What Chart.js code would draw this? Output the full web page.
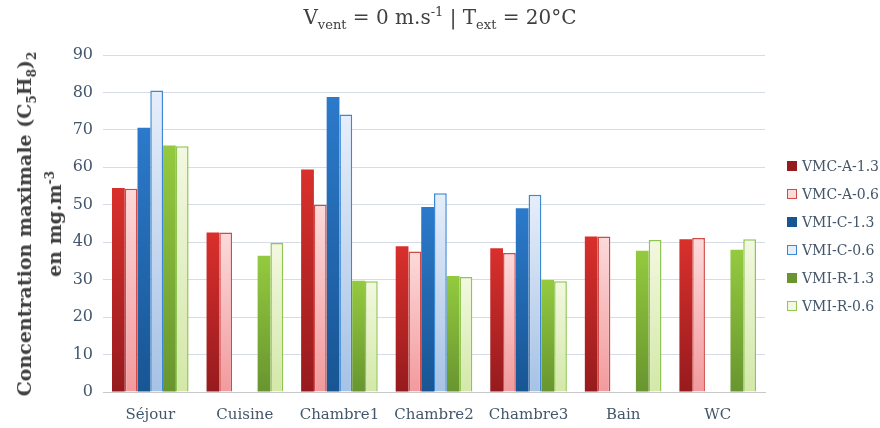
<!DOCTYPE html>
<html>
<head>
<meta charset="utf-8">
<script src="https://cdn.jsdelivr.net/npm/chart.js@4"></script>
<style>
    body { margin: 0; background: #fff; }
    #cadre { position: relative; width: 880px; height: 428px; }
    #titre {
        position: absolute; left: 0; width: 880px; top: 5px;
        text-align: center; font-family: 'DejaVu Serif', serif; font-size: 20px; color: #404040;
    }
    #titre sub, #titre sup { font-size: 13px; line-height: 0; }
    #titreY {
        position: absolute; left: 39px; top: 224px;
        transform: translate(-50%, -50%) rotate(-90deg);
        text-align: center; white-space: nowrap;
        font-family: 'DejaVu Serif', serif; font-weight: bold; font-size: 19px; color: #404040;
        line-height: 30px;
    }
    #titreY sub, #titreY sup { font-size: 12px; line-height: 0; }
    #legende { position: absolute; left: 787px; top: 152px; }
    .item {
        height: 28px; display: flex; align-items: center; white-space: nowrap;
        font-family: 'DejaVu Serif', serif; font-size: 14px; color: #44576a;
    }
    .item span.carre { width: 10px; height: 10px; box-sizing: border-box; margin-right: 5px; }
</style>
</head>
<body>
<div id="cadre">
    <canvas id="graphique"></canvas>
    <div id="titre">V<sub>vent</sub> = 0 m.s<sup>-1</sup> | T<sub>ext</sub> = 20°C</div>
    <div id="titreY">Concentration maximale (C<sub>5</sub>H<sub>8</sub>)<sub>2</sub><br>en mg.m<sup>-3</sup></div>
    <div id="legende"></div>
</div>
<script>
const pieces = ['Séjour', 'Cuisine', 'Chambre1', 'Chambre2', 'Chambre3', 'Bain', 'WC'];
const vmcA13 = [54.5, 42.6, 59.4, 38.9, 38.4, 41.5, 40.8];
const vmcA06 = [54.3, 42.6, 50.0, 37.5, 37.1, 41.5, 41.1];
const vmiC13 = [70.6, null, 78.8, 49.4, 49.1, null, null];
const vmiC06 = [80.5, null, 74.1, 53.1, 52.7, null, null];
const vmiR13 = [65.8, 36.4, 29.7, 31.0, 29.9, 37.7, 38.0];
const vmiR06 = [65.6, 39.8, 29.6, 30.7, 29.6, 40.6, 40.8];
const ticksY = [0, 10, 20, 30, 40, 50, 60, 70, 80, 90];

// couleurs : [haut, bas, bordure, epaisseur bordure]
const styles = {
    'VMC-A-1.3': ['#d9302c', '#961b1e', '#a82020', 0],
    'VMC-A-0.6': ['#fcdada', '#f29a9d', '#d04a48', 1.5],
    'VMI-C-1.3': ['#2c7acb', '#185593', '#1d5fa5', 0],
    'VMI-C-0.6': ['#e6eefa', '#a6c2e5', '#3d88d4', 1.5],
    'VMI-R-1.3': ['#94ca3f', '#68952f', '#73a333', 0],
    'VMI-R-0.6': ['#f3f8e0', '#d3e8a8', '#8fc652', 1.5]
};

function degrade(nom) {
    const [haut, bas] = styles[nom];
    return (ctx) => {
        const chart = ctx.chart;
        if (!chart.chartArea || ctx.raw == null || !chart.scales.y) return bas;
        const y = chart.scales.y;
        const top = y.getPixelForValue(ctx.raw);
        const base = y.getPixelForValue(0);
        if (!isFinite(top) || top === base) return bas;
        const g = chart.ctx.createLinearGradient(0, top, 0, base);
        g.addColorStop(0, haut);
        g.addColorStop(1, bas);
        return g;
    };
}

function serie(nom, valeurs) {
    return {
        label: nom,
        data: valeurs,
        backgroundColor: degrade(nom),
        borderColor: styles[nom][2],
        borderWidth: styles[nom][3],
        borderSkipped: 'bottom'
    };
}

const chart = new Chart(document.getElementById('graphique'), {
    type: 'bar',
    data: {
        labels: pieces,
        datasets: [
            serie('VMC-A-1.3', vmcA13),
            serie('VMC-A-0.6', vmcA06),
            serie('VMI-C-1.3', vmiC13),
            serie('VMI-C-0.6', vmiC06),
            serie('VMI-R-1.3', vmiR13),
            serie('VMI-R-0.6', vmiR06)
        ]
    },
    options: {
        responsive: true,
        maintainAspectRatio: false,
        animation: false,
        datasets: {
            bar: { categoryPercentage: 0.81, barPercentage: 1.0 }
        },
        layout: { padding: { left: 61, top: 55, right: 115, bottom: 0 } },
        scales: {
            x: {
                grid: { display: false },
                border: { color: '#c8c8c8' },
                afterFit: (s) => { s.height = 36; },
                ticks: { color: '#44576a', font: { family: 'DejaVu Serif', size: 15 }, padding: 6 }
            },
            y: {
                min: 0,
                max: 90,
                afterBuildTicks: (s) => { s.ticks = ticksY.map(v => ({ value: v })); },
                afterFit: (s) => { s.width = 42; },
                grid: { color: '#d6dbe6', drawTicks: false },
                border: { display: false },
                ticks: { color: '#44576a', font: { family: 'DejaVu Serif', size: 16 }, padding: 10 }
            }
        },
        plugins: {
            legend: { display: false },
            tooltip: { enabled: false }
        }
    }
});

// légende construite à partir des séries
const legende = document.getElementById('legende');
chart.data.datasets.forEach(ds => {
    const st = styles[ds.label];
    const item = document.createElement('div');
    item.className = 'item';
    const carre = document.createElement('span');
    carre.className = 'carre';
    carre.style.background = st[3] ? st[0] : st[1];
    if (st[3]) carre.style.border = '1.5px solid ' + st[2];
    item.appendChild(carre);
    item.appendChild(document.createTextNode(ds.label));
    legende.appendChild(item);
});
</script>
</body>
</html>
